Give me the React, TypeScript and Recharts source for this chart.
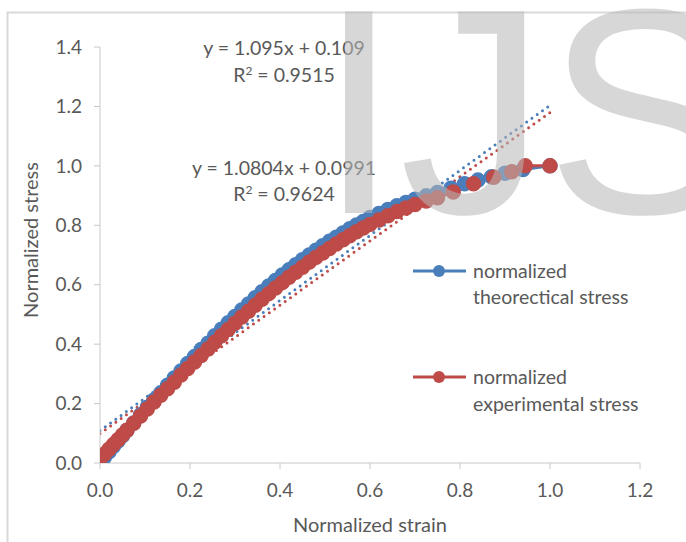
import { ComposedChart, Line, XAxis, YAxis } from "recharts";

// normalized theoretical stress vs strain
const theoStrain = [
  0, 0.01, 0.02, 0.03, 0.04, 0.05, 0.06, 0.075, 0.09, 0.105, 0.12, 0.135, 0.15, 0.165, 0.18, 0.195,
  0.21, 0.225, 0.24, 0.255, 0.27, 0.285, 0.3, 0.315, 0.33, 0.345, 0.36, 0.375, 0.39, 0.405, 0.42,
  0.435, 0.45, 0.465, 0.48, 0.495, 0.51, 0.525, 0.54, 0.555, 0.57, 0.585, 0.6, 0.62, 0.64, 0.66,
  0.68, 0.7, 0.725, 0.75, 0.78, 0.81, 0.84, 0.87, 0.9, 0.94, 1.0,
];
const theoStress = [
  0, 0.02, 0.038, 0.056, 0.074, 0.092, 0.11, 0.135, 0.162, 0.188, 0.212, 0.236, 0.262, 0.286, 0.31,
  0.335, 0.358, 0.382, 0.403, 0.428, 0.45, 0.472, 0.493, 0.515, 0.535, 0.556, 0.576, 0.596, 0.614,
  0.633, 0.65, 0.667, 0.684, 0.7, 0.716, 0.731, 0.746, 0.76, 0.774, 0.788, 0.801, 0.813, 0.826,
  0.84, 0.853, 0.866, 0.877, 0.888, 0.899, 0.91, 0.925, 0.94, 0.952, 0.963, 0.975, 0.988, 1.0,
];

// normalized experimental stress vs strain
const expStrain = [
  0, 0.01, 0.02, 0.03, 0.04, 0.05, 0.06, 0.075, 0.09, 0.105, 0.12, 0.135, 0.15, 0.165, 0.18, 0.195,
  0.21, 0.225, 0.24, 0.255, 0.27, 0.285, 0.3, 0.315, 0.33, 0.345, 0.36, 0.375, 0.39, 0.405, 0.42,
  0.435, 0.45, 0.465, 0.48, 0.495, 0.51, 0.525, 0.54, 0.555, 0.57, 0.585, 0.6, 0.62, 0.64, 0.66,
  0.68, 0.7, 0.725, 0.75, 0.785, 0.83, 0.875, 0.915, 0.945, 1.0,
];
const expStress = [
  0.015, 0.03, 0.046, 0.062, 0.078, 0.094, 0.11, 0.134, 0.158, 0.182, 0.205, 0.228, 0.25, 0.272,
  0.296, 0.318, 0.34, 0.362, 0.384, 0.406, 0.428, 0.449, 0.47, 0.491, 0.511, 0.531, 0.551, 0.57,
  0.589, 0.607, 0.625, 0.642, 0.659, 0.676, 0.692, 0.707, 0.722, 0.737, 0.751, 0.765, 0.778, 0.791,
  0.803, 0.818, 0.832, 0.846, 0.858, 0.87, 0.882, 0.893, 0.912, 0.94, 0.962, 0.98, 1.0, 1.0,
];

// linear trendline end points
const theoTrendStrain = [0, 1.0];
const theoTrendStress = [0.109, 1.204];
const expTrendStrain = [0, 1.0];
const expTrendStress = [0.0991, 1.1795];

const xTicks = [0, 0.2, 0.4, 0.6, 0.8, 1.0, 1.2];
const yTicks = [0, 0.2, 0.4, 0.6, 0.8, 1.0, 1.2, 1.4];

const BLUE = "#4a7ebb";
const RED = "#be4b48";
const TEXT = "#595959";
const FONT = "Lato, 'Liberation Sans', sans-serif";

const zip = (xs: number[], ys: number[]) => xs.map((x, i) => ({ x, y: ys[i] }));

const theoData = zip(theoStrain, theoStress);
const expData = zip(expStrain, expStress);
const theoTrend = zip(theoTrendStrain, theoTrendStress);
const expTrend = zip(expTrendStrain, expTrendStress);

const tickStyle = { fill: TEXT, fontSize: 19, fontFamily: FONT };

export default function App() {
  return (
    <div style={{ position: "absolute", left: 0, top: 0, width: 686, height: 542, background: "#fff" }}>
      <ComposedChart
        width={686}
        height={542}
        margin={{ top: 47, right: 46, left: 0, bottom: 39 }}
      >
        <XAxis
          type="number"
          dataKey="x"
          domain={[0, 1.2]}
          ticks={xTicks}
          tickFormatter={(v: number) => v.toFixed(1)}
          height={40}
          stroke="#c8c8c8"
          tick={tickStyle}
          tickSize={6}
          tickMargin={15}
          allowDataOverflow
        />
        <YAxis
          type="number"
          dataKey="y"
          domain={[0, 1.4]}
          ticks={yTicks}
          tickFormatter={(v: number) => v.toFixed(1)}
          width={100}
          stroke="#c8c8c8"
          tick={tickStyle}
          tickSize={6}
          tickMargin={12}
          allowDataOverflow
        />
        <Line
          data={theoData}
          dataKey="y"
          type="linear"
          stroke={BLUE}
          strokeWidth={3}
          dot={{ r: 7, fill: BLUE, stroke: BLUE, strokeWidth: 1.5 }}
          activeDot={false}
          isAnimationActive={false}
        />
        <Line
          data={expData}
          dataKey="y"
          type="linear"
          stroke={RED}
          strokeWidth={3}
          dot={{ r: 7, fill: RED, stroke: RED, strokeWidth: 1.5 }}
          activeDot={false}
          isAnimationActive={false}
        />
        <Line
          data={theoTrend}
          dataKey="y"
          type="linear"
          stroke={BLUE}
          strokeWidth={3}
          strokeDasharray="0 6.5"
          strokeLinecap="round"
          dot={false}
          activeDot={false}
          isAnimationActive={false}
        />
        <Line
          data={expTrend}
          dataKey="y"
          type="linear"
          stroke={RED}
          strokeWidth={3}
          strokeDasharray="0 6.5"
          strokeLinecap="round"
          dot={false}
          activeDot={false}
          isAnimationActive={false}
        />
      </ComposedChart>

      <svg
        width={686}
        height={542}
        style={{ position: "absolute", left: 0, top: 0, pointerEvents: "none" }}
        fontFamily={FONT}
      >
        <rect x={7.5} y={12.5} width={720} height={560} fill="none" stroke="#d9d9d9" strokeWidth={2} />

        <text x={284} y={55} textAnchor="middle" fill={TEXT} fontSize={19.5}>y = 1.095x + 0.109</text>
        <text x={284} y={82} textAnchor="middle" fill={TEXT} fontSize={19.5}>
          R<tspan dy={-7} fontSize={12}>2</tspan><tspan dy={7}> = 0.9515</tspan>
        </text>
        <text x={284} y={175} textAnchor="middle" fill={TEXT} fontSize={19.5}>y = 1.0804x + 0.0991</text>
        <text x={284} y={201} textAnchor="middle" fill={TEXT} fontSize={19.5}>
          R<tspan dy={-7} fontSize={12}>2</tspan><tspan dy={7}> = 0.9624</tspan>
        </text>

        <line x1={413} y1={271} x2={466} y2={271} stroke={BLUE} strokeWidth={3} />
        <circle cx={439} cy={271} r={6} fill={BLUE} />
        <text x={473} y={278} fill={TEXT} fontSize={19.5}>normalized</text>
        <text x={473} y={304} fill={TEXT} fontSize={19.5}>theorectical stress</text>

        <line x1={413} y1={377} x2={466} y2={377} stroke={RED} strokeWidth={3} />
        <circle cx={439} cy={377} r={6} fill={RED} />
        <text x={473} y={384} fill={TEXT} fontSize={19.5}>normalized</text>
        <text x={473} y={411} fill={TEXT} fontSize={19.5}>experimental stress</text>

        <text x={370} y={532} textAnchor="middle" fill={TEXT} fontSize={20}>Normalized strain</text>
        <text
          x={38}
          y={240}
          textAnchor="middle"
          fill={TEXT}
          fontSize={20}
          transform="rotate(-90 38 240)"
        >
          Normalized stress
        </text>

        <text
          x={318}
          y={213}
          fontFamily="'Liberation Sans', Arial, sans-serif"
          fontSize={293}
          fill="#b8b8b8"
          opacity={0.55}
        >
          IJS
        </text>
      </svg>
    </div>
  );
}
